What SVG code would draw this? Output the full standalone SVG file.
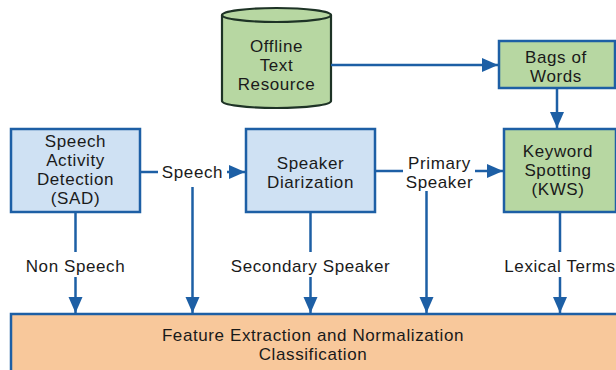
<svg xmlns="http://www.w3.org/2000/svg" width="616" height="370" viewBox="0 0 616 370">
<defs>
<style>
.t{font-family:"Liberation Sans",Arial,sans-serif;font-size:17px;letter-spacing:0.6px;fill:#1a1a1a;text-anchor:middle}
.blue{fill:#cfe1f3;stroke:#1d5fa5;stroke-width:2.5}
.green{fill:#b7d7a2;stroke:#1d5fa5;stroke-width:2.5}
.orange{fill:#f8c89b;stroke:#1d5fa5;stroke-width:2.5}
.cyl{fill:#b7d7a2;stroke:#1e3326;stroke-width:2.2}
.c{fill:none;stroke:#1d5fa5;stroke-width:2.5}
</style>
<marker id="ah" markerUnits="userSpaceOnUse" markerWidth="16" markerHeight="16" viewBox="0 0 16 16" refX="16" refY="8" orient="auto">
<path d="M0,1 L16,8 L0,15 Z" fill="#1d5fa5"/>
</marker>
</defs>
<rect width="616" height="370" fill="#ffffff"/>

<g id="feature">
<rect class="orange" x="11" y="314" width="610" height="70"/>
<text class="t" x="313" y="341">Feature Extraction and Normalization</text>
<text class="t" x="313" y="360">Classification</text>
</g>

<g id="offline">
<path class="cyl" d="M222,15 L222,101 A54.5,7 0 0 0 331,101 L331,15"/>
<ellipse class="cyl" cx="276.5" cy="15" rx="54.5" ry="7"/>
<text class="t" x="276.5" y="51.5">Offline</text>
<text class="t" x="276.5" y="70.5">Text</text>
<text class="t" x="276.5" y="89.5">Resource</text>
</g>

<g id="bags">
<rect class="green" x="499" y="41" width="116" height="47"/>
<text class="t" x="556" y="62.5">Bags of</text>
<text class="t" x="556" y="81.5">Words</text>
</g>

<g id="sad">
<rect class="blue" x="11" y="129" width="129" height="83"/>
<text class="t" x="75.5" y="147">Speech</text>
<text class="t" x="75.5" y="166">Activity</text>
<text class="t" x="75.5" y="185">Detection</text>
<text class="t" x="75.5" y="204">(SAD)</text>
</g>

<g id="diarization">
<rect class="blue" x="246" y="129" width="129" height="83"/>
<text class="t" x="310.5" y="169">Speaker</text>
<text class="t" x="310.5" y="188">Diarization</text>
</g>

<g id="kws">
<rect class="green" x="504" y="129" width="112" height="83"/>
<text class="t" x="558" y="157">Keyword</text>
<text class="t" x="558" y="176">Spotting</text>
<text class="t" x="558" y="195">(KWS)</text>
</g>

<g id="connectors">
<path class="c" d="M331,65 L498,65" marker-end="url(#ah)"/>
<path class="c" d="M557,88 L557,128" marker-end="url(#ah)"/>
<path class="c" d="M140,172 L158,172"/>
<path class="c" d="M227,172 L245,172" marker-end="url(#ah)"/>
<path class="c" d="M192.5,187 L192.5,313" marker-end="url(#ah)"/>
<path class="c" d="M375,171 L403,171"/>
<path class="c" d="M475,171 L503,171" marker-end="url(#ah)"/>
<path class="c" d="M426.5,191 L426.5,313" marker-end="url(#ah)"/>
<path class="c" d="M75.5,212 L75.5,252"/>
<path class="c" d="M75.5,277 L75.5,313" marker-end="url(#ah)"/>
<path class="c" d="M310.5,212 L310.5,252"/>
<path class="c" d="M310.5,277 L310.5,313" marker-end="url(#ah)"/>
<path class="c" d="M560,212 L560,252"/>
<path class="c" d="M560,277 L560,313" marker-end="url(#ah)"/>
</g>

<g id="labels">
<text class="t" x="192.5" y="178">Speech</text>
<text class="t" x="439.5" y="168.5">Primary</text>
<text class="t" x="439.5" y="187.5">Speaker</text>
<text class="t" x="75.5" y="272">Non Speech</text>
<text class="t" x="310.5" y="272">Secondary Speaker</text>
<text class="t" x="560" y="272">Lexical Terms</text>
</g>
</svg>
